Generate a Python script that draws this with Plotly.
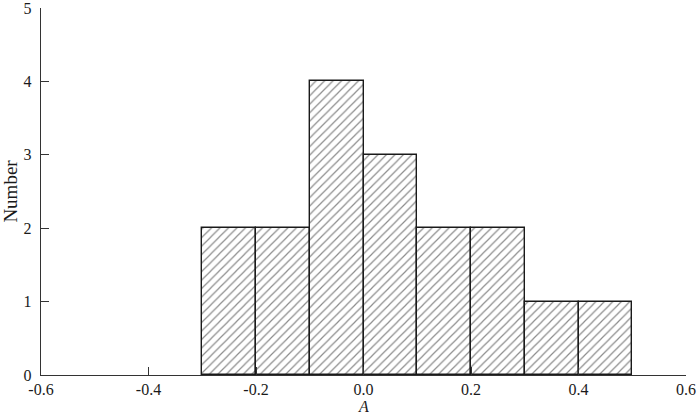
import plotly.graph_objects as go

# histogram of A: left bin edges and counts
bin_left = [-0.3, -0.2, -0.1, 0.0, 0.1, 0.2, 0.3, 0.4]
counts = [2, 2, 4, 3, 2, 2, 1, 1]
bin_width = 0.1

x_ticks = [-0.6, -0.4, -0.2, 0.0, 0.2, 0.4, 0.6]
x_ticktext = ["-0.6", "-0.4", "-0.2", "0.0", "0.2", "0.4", "0.6"]
y_ticks = [0, 1, 2, 3, 4, 5]

fig = go.Figure()
fig.add_trace(go.Bar(
    x=bin_left,
    y=counts,
    width=bin_width,
    offset=0,
    marker=dict(
        color="white",
        line=dict(color="#1a1a1a", width=1.4),
        pattern=dict(shape="/", fgcolor="#1a1a1a", bgcolor="white", size=6, solidity=0.2),
    ),
    showlegend=False,
))

fig.update_layout(
    width=700, height=420,
    margin=dict(l=41, r=14, t=8, b=45),
    plot_bgcolor="white",
    paper_bgcolor="white",
    font=dict(family="Liberation Serif", size=16, color="#1a1a1a"),
    bargap=0,
)
fig.update_xaxes(
    range=[-0.6, 0.6],
    tickvals=x_ticks, ticktext=x_ticktext,
    ticks="inside", ticklen=8, tickcolor="#333", tickwidth=1.3,
    showline=True, linecolor="#333", linewidth=1.4,
    showgrid=False, zeroline=False, automargin=False,
    ticklabelstandoff=0, ticklabeloverflow="allow",
)
fig.update_yaxes(
    range=[0, 5],
    tickvals=y_ticks,
    ticks="inside", ticklen=8, tickcolor="#333", tickwidth=1.3,
    showline=True, linecolor="#333", linewidth=1.4,
    showgrid=False, zeroline=False, automargin=False,
    ticklabelstandoff=5, ticklabeloverflow="allow",
    title=dict(text="Number", standoff=11),
)
# x axis title sits tight under the tick labels
fig.add_annotation(text="<i>A</i>", xref="paper", yref="paper", x=0.5, y=0,
                   yshift=-31, yanchor="middle", showarrow=False)

# drop the page's default body margin so the figure sits at the window's corner
fig.write_html("out.html", config={"displayModeBar": False},
               post_script="document.body.style.margin='0';")
